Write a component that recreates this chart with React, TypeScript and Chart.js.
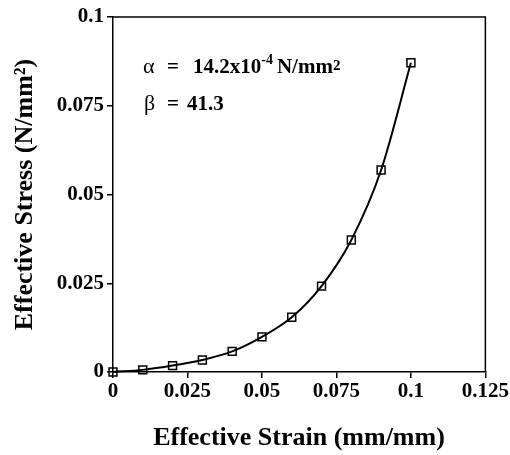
import React, { useEffect, useRef } from "react";
import { Chart, registerables } from "chart.js";

Chart.register(...registerables);

const strainValues = [0, 0.01, 0.02, 0.03, 0.04, 0.05, 0.06, 0.07, 0.08, 0.09, 0.1];
const stressValues = [0, 0.0006, 0.0018, 0.0034, 0.0058, 0.0099, 0.0154, 0.0242, 0.0372, 0.0569, 0.0871];
const xTickValues = [0, 0.025, 0.05, 0.075, 0.1, 0.125];
const xTickLabels = ["0", "0.025", "0.05", "0.075", "0.1", "0.125"];
const yTickValues = [0, 0.025, 0.05, 0.075, 0.1];
const yTickLabels = ["0", "0.025", "0.05", "0.075", "0.1"];
const xTitle = "Effective Strain (mm/mm)";
const yTitle = "Effective Stress (N/mm\u00B2)";

const SERIF = '"Liberation Serif", "Times New Roman", serif';

const decorPlugin = {
  id: "decor",
  afterDraw(chart: any) {
    const { ctx, chartArea } = chart;
    ctx.save();
    ctx.strokeStyle = "#000";
    ctx.lineWidth = 1.5;
    ctx.beginPath();
    ctx.moveTo(chartArea.left, chartArea.top);
    ctx.lineTo(chartArea.right, chartArea.top);
    ctx.lineTo(chartArea.right, chartArea.bottom);
    ctx.stroke();

    ctx.fillStyle = "#000";
    ctx.textBaseline = "alphabetic";
    ctx.font = `bold 26px ${SERIF}`;
    ctx.textAlign = "center";
    ctx.fillText(xTitle, 299, 445);
    ctx.save();
    ctx.translate(32, (chartArea.top + chartArea.bottom) / 2);
    ctx.rotate(-Math.PI / 2);
    ctx.fillText(yTitle, 0, 0);
    ctx.restore();

    ctx.textAlign = "left";
    const L = chartArea.left;
    const y1 = chartArea.top + 56;
    ctx.font = `22px ${SERIF}`;
    ctx.fillText("\u03B1", L + 30, y1);
    ctx.font = `bold 21px ${SERIF}`;
    ctx.fillText("=", L + 54, y1);
    let x = L + 80;
    ctx.fillText("14.2x10", x, y1);
    x += ctx.measureText("14.2x10").width;
    ctx.font = `bold 14px ${SERIF}`;
    ctx.fillText("-4", x, y1 - 9);
    x += ctx.measureText("-4").width + 4;
    ctx.font = `bold 21px ${SERIF}`;
    ctx.fillText("N/mm", x, y1);
    x += ctx.measureText("N/mm").width;
    ctx.font = `bold 15px ${SERIF}`;
    ctx.fillText("2", x, y1 - 3);

    const y2 = chartArea.top + 93;
    ctx.font = `22px ${SERIF}`;
    ctx.fillText("\u03B2", L + 31, y2);
    ctx.font = `bold 21px ${SERIF}`;
    ctx.fillText("=", L + 54, y2);
    ctx.fillText("41.3", L + 74, y2);
    ctx.restore();
  },
};

export default function App() {
  const ref = useRef<HTMLCanvasElement>(null);
  useEffect(() => {
    if (!ref.current) return;
    const chart = new Chart(ref.current, {
      type: "line",
      data: {
        datasets: [
          {
            data: strainValues.map((v, i) => ({ x: v, y: stressValues[i] })),
            borderColor: "#000",
            borderWidth: 2,
            cubicInterpolationMode: "monotone",
            pointStyle: "rect",
            pointRadius: 5.6,
            pointBorderWidth: 1.5,
            pointBackgroundColor: "rgba(0,0,0,0)",
            pointBorderColor: "#000",
            fill: false,
            clip: false,
          },
        ],
      },
      options: {
        animation: false,
        responsive: false,
        maintainAspectRatio: false,
        layout: { padding: { top: 17, right: 24, left: 0, bottom: 0 } },
        plugins: { legend: { display: false }, tooltip: { enabled: false } },
        scales: {
          x: {
            type: "linear",
            min: 0,
            max: 0.125,
            afterBuildTicks: (s: any) => {
              s.ticks = xTickValues.map((v) => ({ value: v }));
            },
            afterFit: (s: any) => {
              s.height = 83;
            },
            ticks: {
              color: "#000",
              font: { family: SERIF, size: 21, weight: "bold" },
              padding: 1,
              maxRotation: 0,
              autoSkip: false,
              callback: (v: any) => {
                const i = xTickValues.findIndex((t) => Math.abs(t - v) < 1e-9);
                return i >= 0 ? xTickLabels[i] : "";
              },
            },
            grid: { drawOnChartArea: false, drawTicks: true, tickLength: 6, color: "#000", lineWidth: 1.5 },
            border: { color: "#000", width: 1.5 },
          },
          y: {
            type: "linear",
            min: 0,
            max: 0.1,
            afterBuildTicks: (s: any) => {
              s.ticks = yTickValues.map((v) => ({ value: v }));
            },
            afterFit: (s: any) => {
              s.width = 113;
            },
            ticks: {
              color: "#000",
              font: { family: SERIF, size: 21, weight: "bold" },
              padding: 3,
              autoSkip: false,
              callback: (v: any) => {
                const i = yTickValues.findIndex((t) => Math.abs(t - v) < 1e-9);
                return i >= 0 ? yTickLabels[i] : "";
              },
            },
            grid: { drawOnChartArea: false, drawTicks: true, tickLength: 6, color: "#000", lineWidth: 1.5 },
            border: { color: "#000", width: 1.5 },
          },
        },
      },
      plugins: [decorPlugin],
    } as any);
    return () => chart.destroy();
  }, []);
  return (
    <div style={{ position: "fixed", left: 0, top: 0, width: 510, height: 455, background: "#fff" }}>
      <canvas ref={ref} width={510} height={455} style={{ display: "block" }} />
    </div>
  );
}
